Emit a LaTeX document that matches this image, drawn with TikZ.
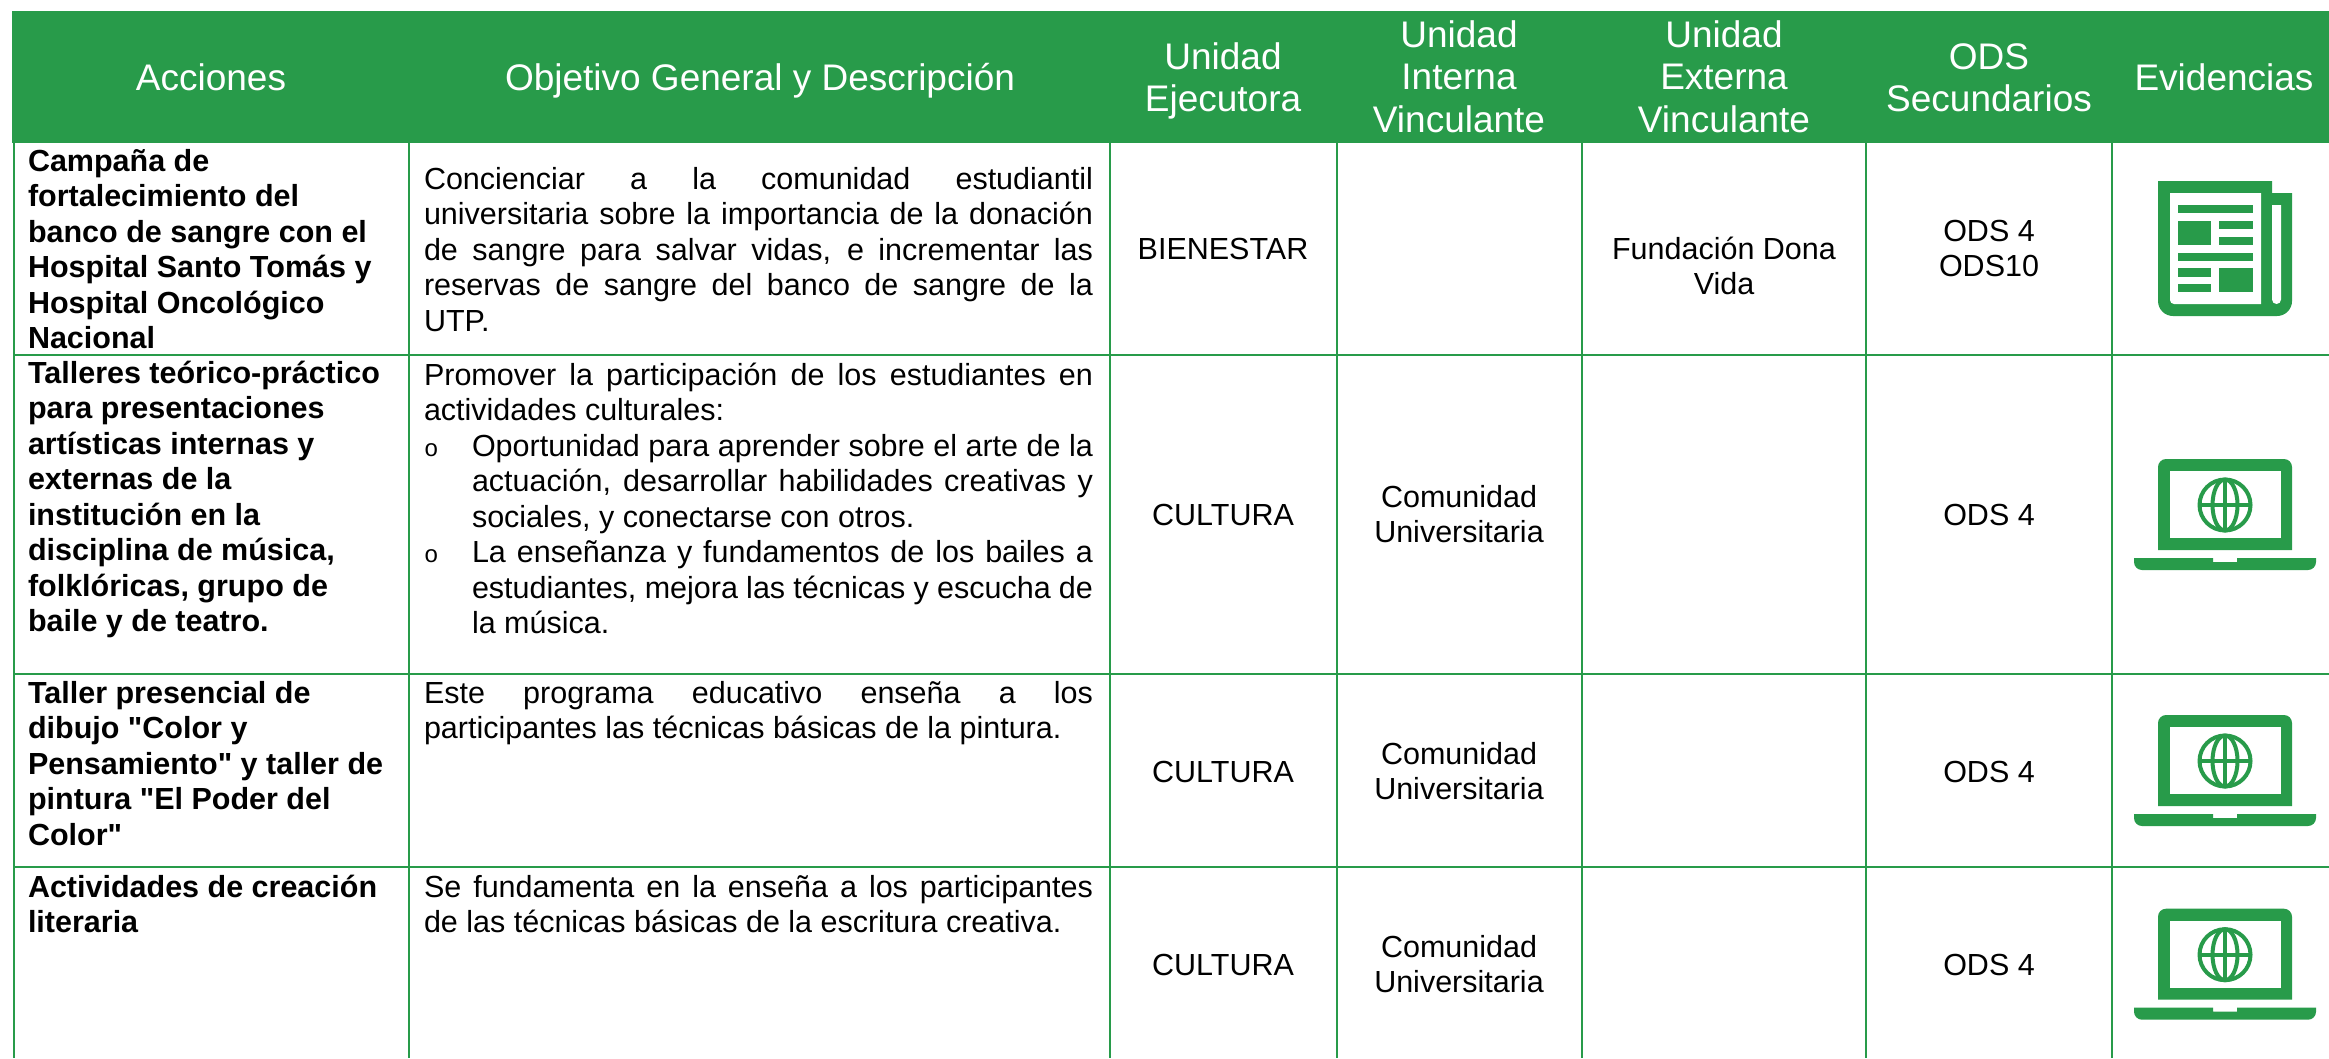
\documentclass[tikz,border=0pt]{standalone}
\usepackage{fontspec}
\setmainfont{Liberation Sans}
\newfontfamily\bulletfont{Liberation Mono}
\newfontfamily\quotefont{Liberation Sans}
\newcommand{\qq}{{\quotefont\bfseries"}}
\definecolor{utpgreen}{HTML}{289B4A}
\newcommand{\firstline}{\rule{0pt}{24pt}}
\newcommand{\headline}{\rule{0pt}{29pt}}
\newcommand{\J}[1]{\hbox to 669pt{\firstline #1}}
\newcommand{\Lf}[1]{\hbox{\firstline #1}}
\newcommand{\BulJ}[1]{\hbox to 669pt{\firstline\hbox to 48pt{\fontsize{24}{24}\bulletfont o\hss}\hbox to 621pt{#1}}}
\newcommand{\IndJ}[1]{\hbox to 669pt{\firstline\hbox to 48pt{\hss}\hbox to 621pt{#1}}}
\newcommand{\IndL}[1]{\hbox{\firstline\hbox to 48pt{\hss}#1}}
\tikzset{
  headtext/.style={text=white,inner sep=0pt,outer sep=0pt,anchor=north,align=center,font=\fontsize{37}{42.7}\selectfont},
  celltext/.style={text=black,inner sep=0pt,outer sep=0pt,anchor=north,align=center,font=\fontsize{30.5}{35.5}\selectfont},
  boldcell/.style={text=black,inner sep=0pt,outer sep=0pt,anchor=north west,align=left,font=\fontsize{30.5}{35.5}\selectfont\bfseries},
  desccell/.style={text=black,inner sep=0pt,outer sep=0pt,anchor=north west,font=\fontsize{30.5}{35.5}\selectfont},
  gridline/.style={draw=utpgreen,line width=2pt},
  iconfill/.style={fill=utpgreen,draw=none},
  iconhole/.style={fill=white,draw=none},
  globeline/.style={draw=utpgreen,line width=4pt},
  laptop/.pic={
    \fill[iconfill] (2158,550) -- (2158,467) arc[start angle=180,end angle=90,x radius=8,y radius=-8] -- (2284,459) arc[start angle=90,end angle=0,x radius=8,y radius=-8] -- (2292,550) -- cycle;
    \fill[iconhole] (2170,471) rectangle (2281,538);
    \draw[globeline] (2225,505) circle[radius=25.5];
    \draw[globeline] (2225,505) ellipse[x radius=12.5,y radius=25.5];
    \draw[globeline] (2225,479.5) -- (2225,530.5);
    \draw[globeline] (2199.5,505) -- (2250.5,505);
    \fill[iconfill] (2134,558) -- (2213,558) -- (2213,562) -- (2237,562) -- (2237,558) -- (2316,558) -- (2316,562) arc[start angle=0,end angle=-90,x radius=8,y radius=-8] -- (2142,570) arc[start angle=-90,end angle=-180,x radius=8,y radius=-8] -- cycle;
  }
}
\begin{document}
\begin{tikzpicture}[x=1pt,y=-1pt]
\useasboundingbox (0,0) rectangle (2329,1058);
\fill[white] (0,0) rectangle (2329,1058);
% header band
\fill[utpgreen] (12,11) rectangle (2329,143);
% grid
\foreach \gx in {13.5,408.5,1109.5,1336.8,1581.5,1866,2112} \draw[gridline] (\gx,143) -- (\gx,1058);
\foreach \gy in {354.5,674,867} \draw[gridline] (13,\gy) -- (2329,\gy);
% header texts
\node[headtext] (hAcc) at (211,61) {\headline Acciones};
\node[headtext] (hObj) at (760,61) {\headline Objetivo General y Descripción};
\node[headtext] (hEje) at (1223,40) {\headline Unidad\\Ejecutora};
\node[headtext] (hInt) at (1459,18) {\headline Unidad\\Interna\\Vinculante};
\node[headtext] (hExt) at (1724,18) {\headline Unidad\\Externa\\Vinculante};
\node[headtext] (hOds) at (1989,40) {\headline ODS\\Secundarios};
\node[headtext] (hEvi) at (2224,61) {\headline Evidencias};
% column one
\node[boldcell] (a1) at (28,147) {\firstline Campaña de\\fortalecimiento del\\banco de sangre con el\\Hospital Santo Tomás y\\Hospital Oncológico\\Nacional};
\node[boldcell] (a2) at (28,359) {\firstline Talleres teórico-práctico\\para presentaciones\\artísticas internas y\\externas de la\\institución en la\\disciplina de música,\\folklóricas, grupo de\\baile y de teatro.};
\node[boldcell] (a3) at (28,679) {\firstline Taller presencial de\\dibujo \qq Color y\\Pensamiento\qq{} y taller de\\pintura \qq El Poder del\\Color\qq};
\node[boldcell] (a4) at (28,873) {\firstline Actividades de creación\\literaria};
% column two
\node[desccell] (d1) at (424,165) {\vbox{%
\J{Concienciar a la comunidad estudiantil}%
\J{universitaria sobre la importancia de la donación}%
\J{de sangre para salvar vidas, e incrementar las}%
\J{reservas de sangre del banco de sangre de la}%
\Lf{UTP.}}};
\node[desccell] (d2) at (424,361) {\vbox{%
\J{Promover la participación de los estudiantes en}%
\Lf{actividades culturales:}%
\BulJ{Oportunidad para aprender sobre el arte de la}%
\IndJ{actuación, desarrollar habilidades creativas y}%
\IndL{sociales, y conectarse con otros.}%
\BulJ{La enseñanza y fundamentos de los bailes a}%
\IndJ{estudiantes, mejora las técnicas y escucha de}%
\IndL{la música.}}};
\node[desccell] (d3) at (424,679) {\vbox{%
\J{Este programa educativo enseña a los}%
\Lf{participantes las técnicas básicas de la pintura.}}};
\node[desccell] (d4) at (424,873) {\vbox{%
\J{Se fundamenta en la enseña a los participantes}%
\Lf{de las técnicas básicas de la escritura creativa.}}};
% other columns
\node[celltext] (u1) at (1223,235) {\firstline BIENESTAR};
\node[celltext] (e1) at (1724,235) {\firstline Fundación Dona\\Vida};
\node[celltext] (o1) at (1989,217) {\firstline ODS 4\\ODS10};
\node[celltext] (u2) at (1223,501) {\firstline CULTURA};
\node[celltext] (i2) at (1459,483) {\firstline Comunidad\\Universitaria};
\node[celltext] (o2) at (1989,501) {\firstline ODS 4};
\node[celltext] (u3) at (1223,758) {\firstline CULTURA};
\node[celltext] (i3) at (1459,740) {\firstline Comunidad\\Universitaria};
\node[celltext] (o3) at (1989,758) {\firstline ODS 4};
\node[celltext] (u4) at (1223,951) {\firstline CULTURA};
\node[celltext] (i4) at (1459,933) {\firstline Comunidad\\Universitaria};
\node[celltext] (o4) at (1989,951) {\firstline ODS 4};
% newspaper icon
\fill[iconfill] (2158,181) -- (2272,181) -- (2272,193) -- (2292,193) -- (2292,301) arc[start angle=0,end angle=-90,x radius=15,y radius=-15] -- (2173,316) arc[start angle=-90,end angle=-180,x radius=15,y radius=-15] -- cycle;
\fill[iconhole] (2170,193) -- (2261,193) -- (2261,304) -- (2174,304) arc[start angle=-90,end angle=-180,x radius=4,y radius=-4] -- cycle;
\fill[iconhole] (2272,205) -- (2281,205) -- (2281,299.5) arc[start angle=0,end angle=-180,x radius=4.5,y radius=-4.5] -- cycle;
\fill[iconfill] (2178,205) rectangle (2253,213);
\fill[iconfill] (2178,221) rectangle (2211,245);
\fill[iconfill] (2219,221) rectangle (2253,229);
\fill[iconfill] (2219,237) rectangle (2253,245);
\fill[iconfill] (2178,253) rectangle (2253,261);
\fill[iconfill] (2178,268) rectangle (2211,277);
\fill[iconfill] (2178,284) rectangle (2211,292);
\fill[iconfill] (2219,268) rectangle (2253,292);
% laptop icons
\pic at (0,0) {laptop};
\pic at (0,256) {laptop};
\pic at (0,449.7) {laptop};
\end{tikzpicture}
\end{document}
